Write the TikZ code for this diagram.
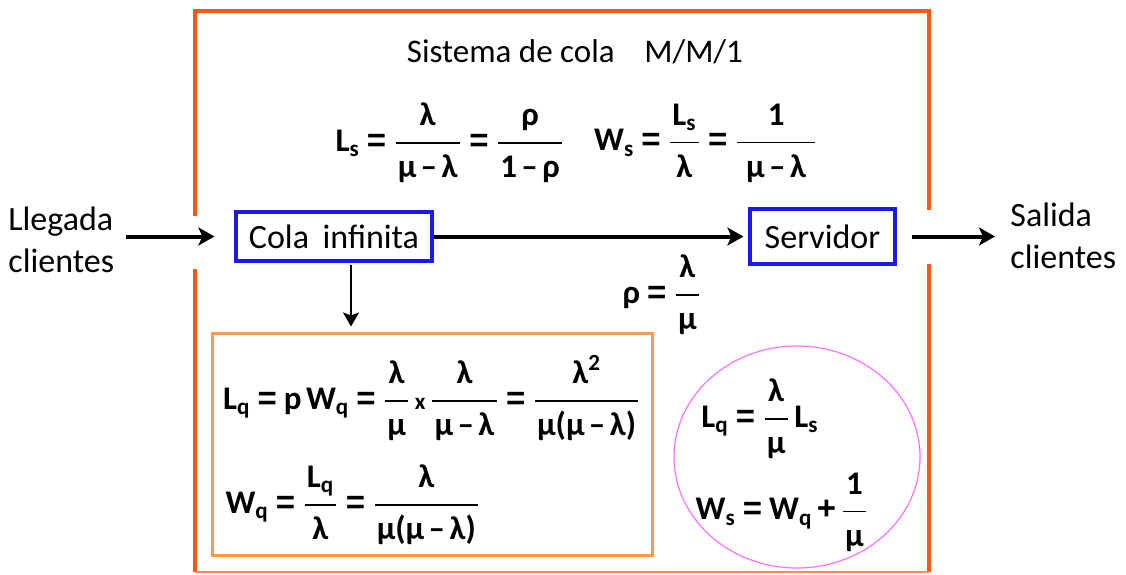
\documentclass[tikz,border=0pt]{standalone}
\usepackage{amsmath}
\usepackage{fontspec}
\setmainfont{Carlito}
\newfontfamily\opfont{Liberation Sans}
\usetikzlibrary{arrows.meta,shapes.geometric,calc}
\definecolor{outerc}{HTML}{FF5612}
\definecolor{boxblue}{HTML}{1A1AF0}
\definecolor{lqorange}{HTML}{F99A4C}
\definecolor{ellc}{HTML}{FF6EFF}
\newcommand{\B}[1]{\text{\bfseries #1}}
\newcommand{\Eq}{\mathrel{\text{\opfont\bfseries =}}}
\newcommand{\Mi}{\mathbin{\B{–}}}
\newcommand{\Pl}{\mathbin{\text{\opfont\bfseries +}}}
\newcommand{\Lp}{\B{(}}
\newcommand{\Rp}{\B{)}}
\newcommand{\Fr}[2]{\dfrac{\mkern1mu#1\mkern1mu}{\mkern1mu#2\mkern1mu}}
\newcommand{\fmlset}{\thickmuskip=3.2mu\medmuskip=2mu\thinmuskip=2mu}
\tikzset{
  lbl/.style={font=\fontsize{17}{20}\selectfont, align=left, inner sep=0pt},
  ttl/.style={font=\fontsize{16.5}{20}\selectfont, inner sep=0pt},
  fml/.style={font=\fontsize{16.5}{20}\selectfont\boldmath\fmlset, inner sep=0pt},
  bluebox/.style={draw=boxblue, line width=1.6pt, inner sep=0pt, font=\fontsize{17}{20}\selectfont},
  bigarr/.style={line width=2pt, -{Stealth[length=8pt,width=9pt,inset=2pt]}},
  thinarr/.style={line width=1pt, -{Stealth[length=7pt,width=8pt,inset=1.5pt]}},
  frame/.style={draw=outerc, line width=2pt}
}
\begin{document}
\begin{tikzpicture}[x=0.5pt,y=-0.5pt]
\useasboundingbox (0,0) rectangle (1126,574);
% outer frame
\coordinate (tl) at (195,11);
\coordinate (tr) at (929,11);
\coordinate (bl) at (195,572);
\coordinate (br) at (929,572);
\draw[frame, line cap=rect] (195,214) -- (tl) -- (tr) -- (929,208);
\draw[frame] (195,269) -- (bl);
\draw[frame] (929,264) -- (br);
\draw[draw=outerc!70, line width=1pt] (bl) -- (br);

% title
\node[ttl] (title) at (575,52) {Sistema de cola\hspace{0.9em}M/M/1};

% top formulas
\node[fml] (ls) at (450,143) {$\B{L}_{\B{s}} \Eq \Fr{\B{λ}}{\B{μ}\Mi\B{λ}} \Eq \Fr{\B{ρ}}{\B{1}\Mi\B{ρ}}$};
\node[fml] (ws) at (706,143) {$\B{W}_{\B{s}} \Eq \Fr{\B{L}_{\B{s}}}{\B{λ}} \Eq \Fr{\;\B{1}\;}{\;\B{μ}\Mi\B{λ}\;}$};

% flow
\node[lbl, anchor=west] (lleg) at (8,240) {Llegada\\[1pt]clientes};
\node[bluebox, minimum width=98pt, minimum height=24.5pt] (cola) at (334,236.5) {Cola\hspace{0.4em}infinita};
\node[bluebox, minimum width=72.5pt, minimum height=27.5pt] (serv) at (822.5,236.5) {Servidor};
\node[lbl, anchor=west] (sal) at (1010,236) {Salida\\[1pt]clientes};

\draw[bigarr] ([xshift=6pt]lleg.east |- cola.west) -- ([xshift=-10pt]cola.west);
\draw[bigarr] (cola.east) -- ([xshift=-2.5pt]serv.west);
\draw[bigarr] ([xshift=7.5pt]serv.east) -- ([xshift=-7.5pt]sal.west |- serv.east);

\node[fml] (rho) at (662,295) {$\B{ρ} \Eq \Fr{\B{λ}}{\B{μ}}$};

% orange box
\node[draw=lqorange, line width=1.5pt, minimum width=220pt, minimum height=111pt, inner sep=0pt] (lqbox) at (432,444) {};
\coordinate (dn) at ([xshift=8.5pt]cola.south);
\draw[thinarr, shorten <=1pt, shorten >=2.5pt] (dn) -- (dn |- lqbox.north);

\node[fml] (lq) at (432,398) {$\B{L}_{\B{q}} \Eq \B{p}\,\B{W}_{\B{q}} \Eq \Fr{\B{λ}}{\B{μ}}\,{\scriptstyle\B{x}}\,\Fr{\B{λ}}{\B{μ}\Mi\B{λ}} \Eq \Fr{\B{λ}^{\B{2}}}{\B{μ}\Lp\B{μ}\Mi\B{λ}\Rp}$};
\node[fml] (wq) at (353,505) {$\B{W}_{\B{q}} \Eq \Fr{\B{L}_{\B{q}}}{\B{λ}} \Eq \Fr{\B{λ}}{\B{μ}\Lp\B{μ}\Mi\B{λ}\Rp}$};

% ellipse
\node[ellipse, draw=ellc, line width=0.6pt, minimum width=123pt, minimum height=111pt, inner sep=0pt] (ell) at (797,457) {};
\node[fml] (lq2) at (760,419) {$\B{L}_{\B{q}} \Eq \Fr{\B{λ}}{\B{μ}}\,\B{L}_{\B{s}}$};
\node[fml] (ws2) at (782,512) {$\B{W}_{\B{s}} \Eq \B{W}_{\B{q}} \Pl \Fr{\B{1}}{\B{μ}}$};
\end{tikzpicture}
\end{document}
